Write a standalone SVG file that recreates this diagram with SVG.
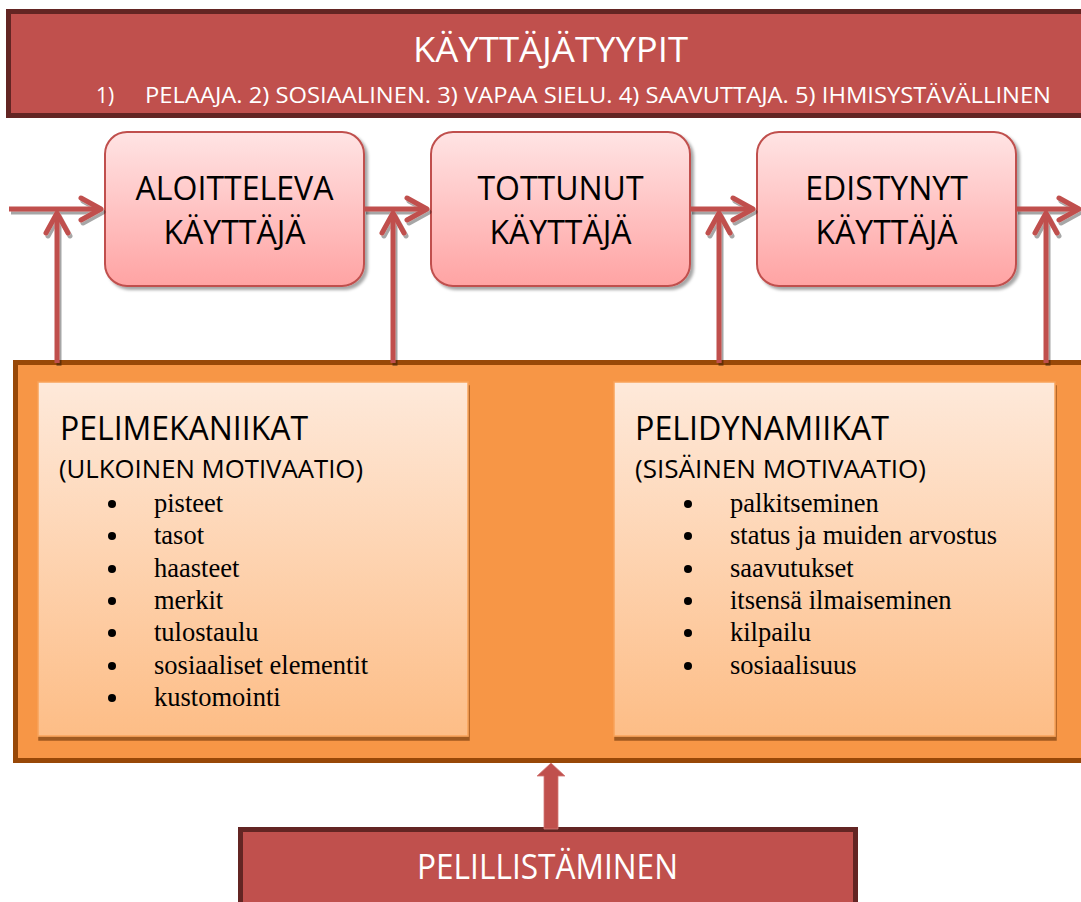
<svg xmlns="http://www.w3.org/2000/svg" width="1081" height="902" viewBox="0 0 1081 902">
<style>
  .sans { font-family: "Open Sans", "Noto Sans", "Liberation Sans", sans-serif; }
  .serif { font-family: "Liberation Serif", "Times New Roman", serif; font-size: 26.5px; fill: #000; }
  .bul { fill: #000; }
  .white { fill: #ffffff; }
  .lbl { font-size: 32px; fill: #000; text-anchor: middle; }
  .stage { fill: url(#stageGrad); stroke: #C0504D; stroke-width: 2; filter: url(#boxShadow); }
  .inner { fill: url(#innerGrad); stroke: #F9A35A; stroke-width: 1.5; filter: url(#innerShadow); }
  .banner { fill: #C0504D; stroke: #632523; stroke-width: 5; }
  .conn { fill: none; stroke: #C0504D; stroke-width: 5; stroke-linecap: butt; }
  .heading { font-size: 32px; fill: #000; }
  .sub { font-size: 25px; fill: #000; }
</style>
<defs>
  <linearGradient id="stageGrad" x1="0" y1="0" x2="0" y2="1">
    <stop offset="0" stop-color="#FFE4E4"/>
    <stop offset="1" stop-color="#FFA3A3"/>
  </linearGradient>
  <linearGradient id="innerGrad" x1="0" y1="0" x2="0" y2="1">
    <stop offset="0" stop-color="#FEE9DA"/>
    <stop offset="1" stop-color="#FDBD86"/>
  </linearGradient>
  <filter id="boxShadow" x="-10%" y="-10%" width="125%" height="125%">
    <feDropShadow dx="3" dy="3" stdDeviation="1.5" flood-color="#000" flood-opacity="0.35"/>
  </filter>
  <filter id="innerShadow" x="-5%" y="-5%" width="112%" height="112%">
    <feDropShadow dx="1" dy="4" stdDeviation="0.4" flood-color="#5a2a00" flood-opacity="0.55"/>
  </filter>
  <filter id="lineShadow" x="-10%" y="-10%" width="130%" height="130%">
    <feDropShadow dx="2" dy="3" stdDeviation="0.6" flood-color="#000" flood-opacity="0.35"/>
  </filter>
  <marker id="chev" viewBox="-26 -16 30 32" refX="0" refY="0" markerWidth="30" markerHeight="32" markerUnits="userSpaceOnUse" orient="auto" overflow="visible">
    <path d="M-20,-11 L0,0 L-20,11" fill="none" stroke="#C0504D" stroke-width="5" stroke-linecap="round" stroke-linejoin="round"/>
  </marker>
  <marker id="chevBig" viewBox="-26 -16 30 32" refX="0" refY="0" markerWidth="30" markerHeight="32" markerUnits="userSpaceOnUse" orient="auto" overflow="visible">
    <path d="M-19,-12 L0,0 L-19,12" fill="none" stroke="#C0504D" stroke-width="7" stroke-linecap="butt" stroke-linejoin="miter"/>
  </marker>
</defs>

<rect width="1081" height="902" fill="#ffffff"/>

<g id="kayttajatyypit">
  <rect class="banner" x="8.5" y="11.5" width="1090" height="104"/>
  <text class="sans white" x="550.5" y="62" font-size="34" text-anchor="middle" textLength="275" lengthAdjust="spacingAndGlyphs">KÄYTTÄJÄTYYPIT</text>
  <text class="sans white" x="96" y="103" font-size="21">1)</text>
  <text class="sans white" x="145" y="103" font-size="21" textLength="906" lengthAdjust="spacingAndGlyphs">PELAAJA. 2) SOSIAALINEN. 3) VAPAA SIELU. 4) SAAVUTTAJA. 5) IHMISYSTÄVÄLLINEN</text>
</g>

<g id="aloitteleva">
  <rect class="stage" x="105" y="132" width="259" height="154" rx="22"/>
  <text class="sans lbl" x="234.5" y="200" textLength="198" lengthAdjust="spacingAndGlyphs">ALOITTELEVA</text>
  <text class="sans lbl" x="234.5" y="244" textLength="142" lengthAdjust="spacingAndGlyphs">KÄYTTÄJÄ</text>
</g>

<g id="tottunut">
  <rect class="stage" x="431" y="132" width="259" height="154" rx="22"/>
  <text class="sans lbl" x="560.5" y="200">TOTTUNUT</text>
  <text class="sans lbl" x="560.5" y="244" textLength="142" lengthAdjust="spacingAndGlyphs">KÄYTTÄJÄ</text>
</g>

<g id="edistynyt">
  <rect class="stage" x="757" y="132" width="259" height="154" rx="22"/>
  <text class="sans lbl" x="886.5" y="200">EDISTYNYT</text>
  <text class="sans lbl" x="886.5" y="244" textLength="142" lengthAdjust="spacingAndGlyphs">KÄYTTÄJÄ</text>
</g>

<g id="motivaatio">
  <rect x="15.5" y="362.5" width="1090" height="398" fill="#F79646" stroke="#984807" stroke-width="5"/>
</g>

<g id="pelimekaniikat">
  <rect class="inner" x="38" y="382" width="430" height="354"/>
  <text class="sans heading" x="60" y="440" textLength="248" lengthAdjust="spacingAndGlyphs">PELIMEKANIIKAT</text>
  <text class="sans sub" x="59" y="478" textLength="304" lengthAdjust="spacingAndGlyphs">(ULKOINEN MOTIVAATIO)</text>
  <g class="bul">
    <circle cx="112" cy="504" r="4"/>
    <circle cx="112" cy="536" r="4"/>
    <circle cx="112" cy="569" r="4"/>
    <circle cx="112" cy="601" r="4"/>
    <circle cx="112" cy="633" r="4"/>
    <circle cx="112" cy="666" r="4"/>
    <circle cx="112" cy="698" r="4"/>
  </g>
  <g class="serif">
    <text x="154" y="512">pisteet</text>
    <text x="154" y="544">tasot</text>
    <text x="154" y="577">haasteet</text>
    <text x="154" y="609">merkit</text>
    <text x="154" y="641">tulostaulu</text>
    <text x="154" y="674">sosiaaliset elementit</text>
    <text x="154" y="706">kustomointi</text>
  </g>
</g>

<g id="pelidynamiikat">
  <rect class="inner" x="614" y="382" width="441" height="354"/>
  <text class="sans heading" x="635" y="440" textLength="254" lengthAdjust="spacingAndGlyphs">PELIDYNAMIIKAT</text>
  <text class="sans sub" x="635" y="478" textLength="291" lengthAdjust="spacingAndGlyphs">(SISÄINEN MOTIVAATIO)</text>
  <g class="bul">
    <circle cx="688" cy="504" r="4"/>
    <circle cx="688" cy="536" r="4"/>
    <circle cx="688" cy="569" r="4"/>
    <circle cx="688" cy="601" r="4"/>
    <circle cx="688" cy="633" r="4"/>
    <circle cx="688" cy="666" r="4"/>
  </g>
  <g class="serif">
    <text x="730" y="512">palkitseminen</text>
    <text x="730" y="544">status ja muiden arvostus</text>
    <text x="730" y="577">saavutukset</text>
    <text x="730" y="609">itsensä ilmaiseminen</text>
    <text x="730" y="641">kilpailu</text>
    <text x="730" y="674">sosiaalisuus</text>
  </g>
</g>

<g id="pelillistaminen">
  <rect class="banner" x="240.5" y="829.5" width="615" height="100"/>
  <text class="sans white" x="547.5" y="879" font-size="34" text-anchor="middle" textLength="261" lengthAdjust="spacingAndGlyphs">PELILLISTÄMINEN</text>
</g>

<g id="connectors">
  <g filter="url(#lineShadow)">
    <path class="conn" d="M9,209 H101" marker-end="url(#chev)"/>
    <path class="conn" d="M364,209 H427" marker-end="url(#chev)"/>
    <path class="conn" d="M690,209 H753" marker-end="url(#chev)"/>
    <path class="conn" d="M1016,209 H1079" marker-end="url(#chev)"/>
    <path class="conn" d="M57,363 V213" marker-end="url(#chev)"/>
    <path class="conn" d="M393,363 V213" marker-end="url(#chev)"/>
    <path class="conn" d="M719,363 V213" marker-end="url(#chev)"/>
    <path class="conn" d="M1046,363 V213" marker-end="url(#chev)"/>
  </g>
  <g filter="url(#innerShadow)">
    <path class="conn" d="M470,560 H608" stroke-width="7" marker-end="url(#chevBig)"/>
  </g>
  <polygon points="544,829 544,776 537,776 551,763 565,776 558,776 558,829" fill="#C0504D" stroke="#D47A77" stroke-width="0.8"/>
</g>
</svg>
